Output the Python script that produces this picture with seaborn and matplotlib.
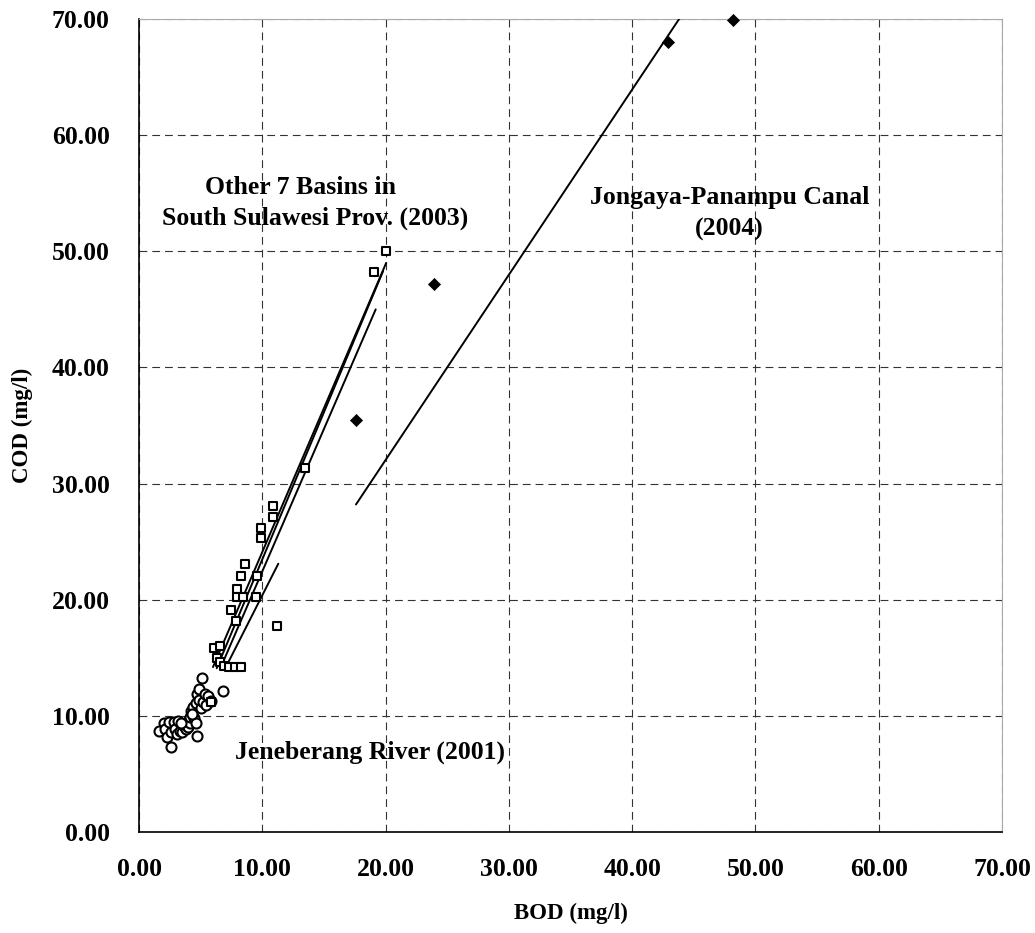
import matplotlib
matplotlib.use("Agg")
import matplotlib.pyplot as plt
import seaborn as sns
import pandas as pd

# ---------------- data ----------------
# Jeneberang River (2001) - open circles
jeneberang_bod = [1.6, 2.0, 2.1, 2.3, 2.4, 2.6, 2.6, 2.8, 2.9, 3.1, 3.2, 3.3, 3.5, 3.6,
                  3.7, 3.8, 3.9, 3.9, 4.0, 4.0, 4.1, 4.1, 4.2, 4.4, 4.5, 4.6, 4.6, 4.7,
                  4.7, 4.9, 4.9, 5.0, 5.1, 5.2, 5.35, 5.6, 5.4, 5.8, 6.8, 4.3, 3.4]
jeneberang_cod = [8.7, 9.4, 8.9, 8.2, 9.5, 7.3, 8.6, 9.5, 8.9, 8.4, 9.6, 8.7, 8.6, 9.2,
                  9.0, 8.9, 9.1, 9.3, 9.0, 9.6, 9.4, 9.9, 10.4, 10.8, 9.8, 11.1, 9.4, 8.3,
                  11.9, 12.3, 11.4, 10.7, 13.3, 11.2, 11.9, 11.7, 10.9, 11.3, 12.1, 10.2, 9.4]

# Other 7 basins in South Sulawesi Prov. (2003) - open squares
basins_bod = [20.0, 19.1, 13.5, 10.9, 10.9, 9.87, 9.87, 8.6, 8.27, 9.6, 7.97, 7.97, 8.4,
              9.46, 7.49, 7.84, 11.2, 6.1, 6.6, 6.35, 6.6, 6.92, 7.32, 7.78, 8.27, 5.84]
basins_cod = [50.0, 48.2, 31.3, 28.1, 27.1, 26.2, 25.3, 23.1, 22.0, 22.0, 20.9, 20.2, 20.2,
              20.2, 19.1, 18.2, 17.7, 15.8, 16.0, 15.0, 14.6, 14.3, 14.2, 14.2, 14.2, 11.2]

# Jongaya-Panampu Canal (2004) - filled diamonds
canal_bod = [17.6, 23.9, 42.9, 48.2]
canal_cod = [35.5, 47.2, 68.0, 69.9]

# regression lines (start/end BOD and COD values)
basin_line_bod = [[6.0, 20.05], [6.3, 19.8], [6.6, 19.2], [7.0, 11.3]]
basin_line_cod = [[14.2, 49.0], [14.1, 48.3], [14.1, 45.0], [14.1, 23.1]]
canal_line_bod = [17.6, 48.2]
canal_line_cod = [28.2, 77.0]

ticks = [0, 10, 20, 30, 40, 50, 60, 70]
tick_labels = ["0.00", "10.00", "20.00", "30.00", "40.00", "50.00", "60.00", "70.00"]

# ---------------- style ----------------
sns.set_style("white")
plt.rcParams["font.family"] = ["Liberation Serif", "DejaVu Serif"]
plt.rcParams["font.weight"] = "bold"
plt.rcParams["text.color"] = "black"
plt.rcParams["axes.labelcolor"] = "black"
plt.rcParams["xtick.color"] = "black"
plt.rcParams["ytick.color"] = "black"

fig = plt.figure(figsize=(10.35, 9.33), dpi=100)
ax = fig.add_axes([139 / 1035, 101 / 933, 863 / 1035, 813 / 933])

df_j = pd.DataFrame({"BOD": jeneberang_bod, "COD": jeneberang_cod})
df_b = pd.DataFrame({"BOD": basins_bod, "COD": basins_cod})
df_c = pd.DataFrame({"BOD": canal_bod, "COD": canal_cod})

# regression lines
for xs, ys in zip(basin_line_bod, basin_line_cod):
    ax.plot(xs, ys, color="black", lw=1.4, zorder=3)
ax.plot(canal_line_bod, canal_line_cod, color="black", lw=1.4, zorder=3)

sns.scatterplot(data=df_j, x="BOD", y="COD", ax=ax, marker="o", s=52,
                facecolor="white", edgecolor="black", linewidth=1.5, zorder=4)
sns.scatterplot(data=df_b, x="BOD", y="COD", ax=ax, marker="s", s=36,
                facecolor="white", edgecolor="black", linewidth=1.5, zorder=4)
sns.scatterplot(data=df_c, x="BOD", y="COD", ax=ax, marker="D", s=38,
                color="black", edgecolor="black", linewidth=0.5, zorder=5, clip_on=False)

ax.set_xlim(0, 70)
ax.set_ylim(0, 70)
ax.set_xticks(ticks)
ax.set_yticks(ticks)
ax.set_xticklabels(tick_labels, fontsize=18.5, fontweight="bold")
ax.set_yticklabels(tick_labels, fontsize=18.5, fontweight="bold")
ax.tick_params(axis="x", length=0, pad=19)
ax.tick_params(axis="y", length=0, pad=21)

ax.grid(True, color="#333333", linestyle=(0, (7, 4.5)), linewidth=0.8)
ax.set_axisbelow(True)

for side in ["left", "bottom"]:
    ax.spines[side].set_color("black")
    ax.spines[side].set_linewidth(1.2)
for side in ["top", "right"]:
    ax.spines[side].set_color("#aaaaaa")
    ax.spines[side].set_linewidth(0.8)

ax.set_xlabel("BOD (mg/l)", fontsize=16.5, fontweight="bold", va="center")
ax.set_ylabel("COD (mg/l)", fontsize=16.5, fontweight="bold", va="center")
ax.xaxis.set_label_coords(0.5, (832 - 913) / 813)
ax.yaxis.set_label_coords((22 - 139) / 863, 0.5)

txt = dict(fontsize=18.5, fontweight="bold", ha="center", va="center", color="black")
ax.text(13.1, 55.5, "Other 7 Basins in", **txt)
ax.text(14.3, 52.8, "South Sulawesi Prov. (2003)", **txt)
ax.text(47.9, 54.6, "Jongaya-Panampu Canal", **txt)
ax.text(47.9, 51.9, "(2004)", **txt)
ax.text(18.7, 6.9, "Jeneberang River (2001)", **txt)

fig.savefig("out.png", dpi=100)
